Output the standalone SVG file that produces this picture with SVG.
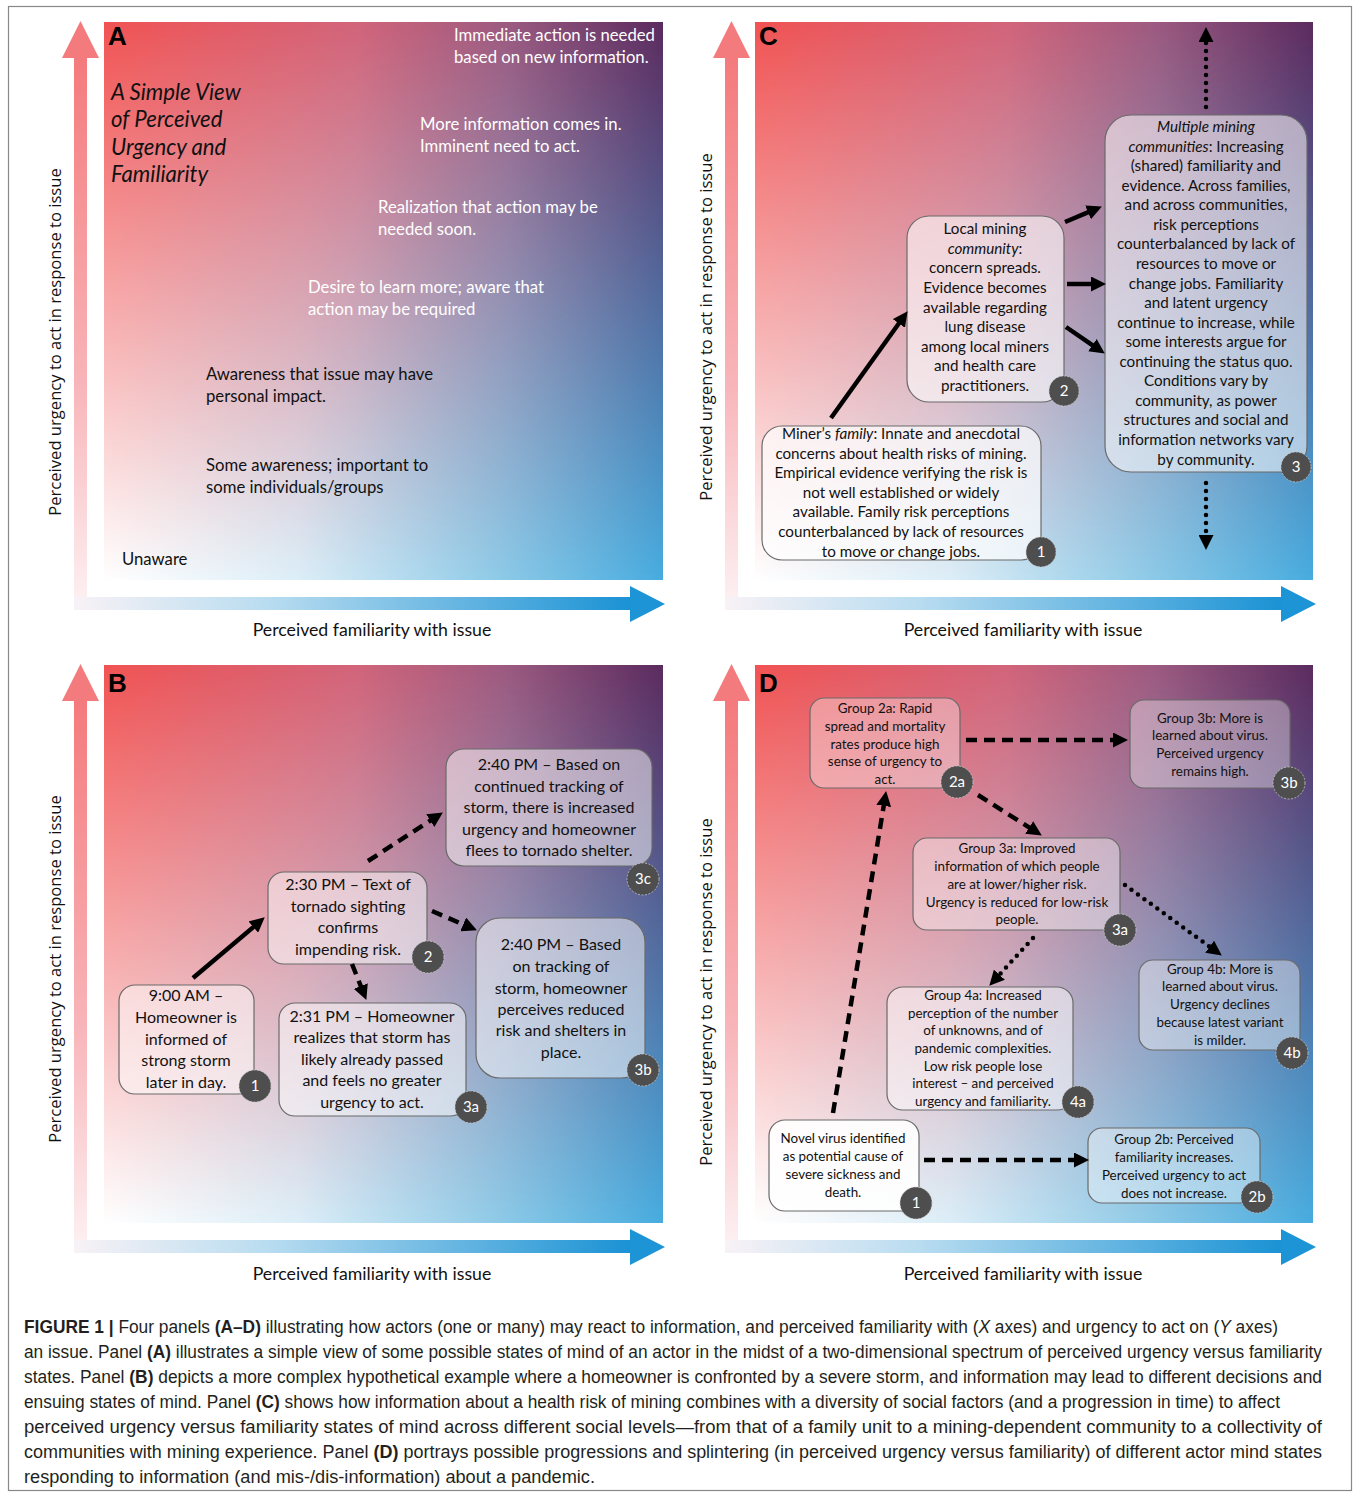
<svg xmlns="http://www.w3.org/2000/svg" width="1356" height="1494" viewBox="0 0 1356 1494">
<style>
.t{font-family:Lato,"Open Sans","DejaVu Sans",sans-serif;fill:#111}
.w{fill:#fff}
.box{fill:#fff;fill-opacity:.5;stroke:#6a6a6a;stroke-width:1.2}
.bc{fill:#4e4e4e;stroke:#c8c8c8;stroke-width:.8;stroke-dasharray:2 1.5}
.bt{font-family:Lato,"Open Sans",sans-serif;fill:#fff;font-size:15px;text-anchor:middle}
.ax{font-family:Lato,"Open Sans",sans-serif;font-size:17.7px;fill:#111;text-anchor:middle}
.ay{font-family:"Open Sans","DejaVu Sans",sans-serif;font-size:16.6px;fill:#111;text-anchor:middle}
.pl{font-family:"Liberation Sans",Arial,sans-serif;font-weight:bold;font-size:26px;fill:#000}
.cap{font-family:"Liberation Sans",Arial,sans-serif;font-size:17.5px;fill:#231f20}
.sol{stroke:#000;stroke-width:4.5;fill:none;marker-end:url(#ah)}
.dsh{stroke:#000;stroke-width:4.5;fill:none;stroke-dasharray:11 7;marker-end:url(#ah)}
.dot{stroke:#000;stroke-width:4.5;fill:none;stroke-dasharray:0 8;stroke-linecap:round;marker-end:url(#ah)}
.c{text-anchor:middle}
</style>
<defs>
<linearGradient id="gTop" x1="0" y1="0" x2="1" y2="0">
<stop offset="0" stop-color="#f15353"/>
<stop offset="0.45" stop-color="#d2647a"/>
<stop offset="0.72" stop-color="#9c5a80"/>
<stop offset="1" stop-color="#5b2b5f"/>
</linearGradient>
<linearGradient id="gBot" x1="0" y1="0" x2="1" y2="0">
<stop offset="0" stop-color="#ffffff"/>
<stop offset="0.35" stop-color="#dbeef8"/>
<stop offset="0.7" stop-color="#8fcbe8"/>
<stop offset="1" stop-color="#47acdf"/>
</linearGradient>
<linearGradient id="gV" x1="0" y1="0" x2="0" y2="1">
<stop offset="0" stop-color="#000"/>
<stop offset="1" stop-color="#fff"/>
</linearGradient>
<mask id="mV" maskContentUnits="objectBoundingBox"><rect width="1" height="1" fill="url(#gV)"/></mask>
<linearGradient id="gAY" x1="0" y1="0" x2="0" y2="1">
<stop offset="0" stop-color="#f47a7c"/>
<stop offset="0.6" stop-color="#f8b6ba"/>
<stop offset="1" stop-color="#fdf2f4"/>
</linearGradient>
<linearGradient id="gAX" x1="0" y1="0" x2="1" y2="0">
<stop offset="0" stop-color="#f8f2f6"/>
<stop offset="0.35" stop-color="#b8dcf0"/>
<stop offset="1" stop-color="#1a92d4"/>
</linearGradient>
<marker id="ah" viewBox="0 0 10 10" refX="2" refY="5" markerWidth="15" markerHeight="15" markerUnits="userSpaceOnUse" orient="auto">
<path d="M0,0 L10,5 L0,10 z" fill="#000"/>
</marker>
<g id="axes">
<rect x="74" y="56" width="13" height="554" fill="url(#gAY)"/>
<polygon points="62,58 99,58 80.5,21" fill="#f47b7d"/>
<rect x="74" y="597" width="558" height="13" fill="url(#gAX)"/>
<polygon points="630,586 630,622 665,604" fill="#1c94d6"/>
</g>
</defs>

<rect x="8.5" y="6.5" width="1343" height="1484" fill="#fff" stroke="#888" stroke-width="1.2"/>

<!-- Panel A -->
<g id="panelA">
<rect x="104" y="22" width="559" height="558" fill="url(#gTop)"/>
<rect x="104" y="22" width="559" height="558" fill="url(#gBot)" mask="url(#mV)"/>
<use href="#axes"/>
<text class="pl" x="108" y="45">A</text>
<text class="ax" x="372" y="636">Perceived familiarity with issue</text>
<text class="ay" transform="translate(61,342) rotate(-90)">Perceived urgency to act in response to issue</text>
<g class="t" font-size="22.2" font-style="italic">
<text x="111" y="100">A Simple View</text>
<text x="111" y="127">of Perceived</text>
<text x="111" y="155">Urgency and</text>
<text x="111" y="182">Familiarity</text>
</g>
<g class="t" font-size="16.7">
<text class="w" x="454" y="41">Immediate action is needed</text>
<text class="w" x="454" y="63">based on new information.</text>
<text class="w" x="420" y="130">More information comes in.</text>
<text class="w" x="420" y="152">Imminent need to act.</text>
<text class="w" x="378" y="213">Realization that action may be</text>
<text class="w" x="378" y="235">needed soon.</text>
<text class="w" x="308" y="293">Desire to learn more; aware that</text>
<text class="w" x="308" y="315">action may be required</text>
<text x="206" y="380">Awareness that issue may have</text>
<text x="206" y="402">personal impact.</text>
<text x="206" y="471">Some awareness; important to</text>
<text x="206" y="493">some individuals/groups</text>
<text x="122" y="565">Unaware</text>
</g>
</g>

<!-- Panel C -->
<g id="panelC">
<rect x="755" y="22" width="558" height="558" fill="url(#gTop)"/>
<rect x="755" y="22" width="558" height="558" fill="url(#gBot)" mask="url(#mV)"/>
<use href="#axes" transform="translate(651,0)"/>
<text class="pl" x="759" y="45">C</text>
<text class="ax" x="1023" y="636">Perceived familiarity with issue</text>
<text class="ay" transform="translate(712,327) rotate(-90)">Perceived urgency to act in response to issue</text>
</g>
<g id="C-node1">
<rect class="box" x="762" y="426" width="279" height="134" rx="20" style="fill-opacity:.7"/>
<g class="t c" font-size="15.2">
<text x="901" y="439">Miner’s <tspan font-style="italic">family</tspan>: Innate and anecdotal</text>
<text x="901" y="459">concerns about health risks of mining.</text>
<text x="901" y="478">Empirical evidence verifying the risk is</text>
<text x="901" y="498">not well established or widely</text>
<text x="901" y="517">available. Family risk perceptions</text>
<text x="901" y="537">counterbalanced by lack of resources</text>
<text x="901" y="557">to move or change jobs.</text>
</g>
<circle class="bc" cx="1041" cy="552" r="15"/><text class="bt" x="1041" y="557">1</text>
</g>
<g id="C-node2">
<rect class="box" x="907" y="216" width="157" height="186" rx="22" style="fill-opacity:.6"/>
<g class="t c" font-size="15.2">
<text x="985" y="234">Local mining</text>
<text x="985" y="254"><tspan font-style="italic">community</tspan>:</text>
<text x="985" y="273">concern spreads.</text>
<text x="985" y="293">Evidence becomes</text>
<text x="985" y="313">available regarding</text>
<text x="985" y="332">lung disease</text>
<text x="985" y="352">among local miners</text>
<text x="985" y="371">and health care</text>
<text x="985" y="391">practitioners.</text>
</g>
<circle class="bc" cx="1064" cy="391" r="15"/><text class="bt" x="1064" y="396">2</text>
</g>
<g id="C-node3">
<rect class="box" x="1105" y="115" width="202" height="357" rx="26" style="fill-opacity:.55"/>
<g class="t c" font-size="15.2">
<text x="1206" y="132" font-style="italic">Multiple mining</text>
<text x="1206" y="152"><tspan font-style="italic">communities</tspan>: Increasing</text>
<text x="1206" y="171">(shared) familiarity and</text>
<text x="1206" y="191">evidence. Across families,</text>
<text x="1206" y="210">and across communities,</text>
<text x="1206" y="230">risk perceptions</text>
<text x="1206" y="249">counterbalanced by lack of</text>
<text x="1206" y="269">resources to move or</text>
<text x="1206" y="289">change jobs. Familiarity</text>
<text x="1206" y="308">and latent urgency</text>
<text x="1206" y="328">continue to increase, while</text>
<text x="1206" y="347">some interests argue for</text>
<text x="1206" y="367">continuing the status quo.</text>
<text x="1206" y="386">Conditions vary by</text>
<text x="1206" y="406">community, as power</text>
<text x="1206" y="425">structures and social and</text>
<text x="1206" y="445">information networks vary</text>
<text x="1206" y="465">by community.</text>
</g>
<circle class="bc" cx="1296" cy="467" r="15"/><text class="bt" x="1296" y="472">3</text>
</g>

<!-- Panel B -->
<g id="panelB">
<rect x="104" y="665" width="559" height="558" fill="url(#gTop)"/>
<rect x="104" y="665" width="559" height="558" fill="url(#gBot)" mask="url(#mV)"/>
<use href="#axes" transform="translate(0,643)"/>
<text class="pl" x="108" y="692">B</text>
<text class="ax" x="372" y="1280">Perceived familiarity with issue</text>
<text class="ay" transform="translate(61,969) rotate(-90)">Perceived urgency to act in response to issue</text>
</g>
<g id="B-node1">
<rect class="box" x="119" y="985" width="135" height="109" rx="16"/>
<g class="t c" font-size="16">
<text x="186" y="1001">9:00 AM –</text>
<text x="186" y="1023">Homeowner is</text>
<text x="186" y="1045">informed of</text>
<text x="186" y="1066">strong storm</text>
<text x="186" y="1088">later in day.</text>
</g>
<circle class="bc" cx="255" cy="1086" r="16"/><text class="bt" x="255" y="1091">1</text>
</g>
<g id="B-node2">
<rect class="box" x="268" y="872" width="159" height="92" rx="16"/>
<g class="t c" font-size="16">
<text x="348" y="890">2:30 PM – Text of</text>
<text x="348" y="912">tornado sighting</text>
<text x="348" y="933">confirms</text>
<text x="348" y="955">impending risk.</text>
</g>
<circle class="bc" cx="428" cy="957" r="16"/><text class="bt" x="428" y="962">2</text>
</g>
<g id="B-node3a">
<rect class="box" x="279" y="1003" width="187" height="113" rx="16"/>
<g class="t c" font-size="16">
<text x="372" y="1022">2:31 PM – Homeowner</text>
<text x="372" y="1043">realizes that storm has</text>
<text x="372" y="1065">likely already passed</text>
<text x="372" y="1086">and feels no greater</text>
<text x="372" y="1108">urgency to act.</text>
</g>
<circle class="bc" cx="471" cy="1107" r="16"/><text class="bt" x="471" y="1112">3a</text>
</g>
<g id="B-node3b">
<rect class="box" x="476" y="918" width="169" height="160" rx="24"/>
<g class="t c" font-size="16">
<text x="561" y="950">2:40 PM – Based</text>
<text x="561" y="972">on tracking of</text>
<text x="561" y="994">storm, homeowner</text>
<text x="561" y="1015">perceives reduced</text>
<text x="561" y="1036">risk and shelters in</text>
<text x="561" y="1058">place.</text>
</g>
<circle class="bc" cx="643" cy="1070" r="16"/><text class="bt" x="643" y="1075">3b</text>
</g>
<g id="B-node3c">
<rect class="box" x="446" y="749" width="206" height="117" rx="18"/>
<g class="t c" font-size="16">
<text x="549" y="770">2:40 PM – Based on</text>
<text x="549" y="792">continued tracking of</text>
<text x="549" y="813">storm, there is increased</text>
<text x="549" y="835">urgency and homeowner</text>
<text x="549" y="856">flees to tornado shelter.</text>
</g>
<circle class="bc" cx="643" cy="879" r="16"/><text class="bt" x="643" y="884">3c</text>
</g>

<!-- Panel D -->
<g id="panelD">
<rect x="755" y="665" width="558" height="558" fill="url(#gTop)"/>
<rect x="755" y="665" width="558" height="558" fill="url(#gBot)" mask="url(#mV)"/>
<use href="#axes" transform="translate(651,643)"/>
<text class="pl" x="759" y="692">D</text>
<text class="ax" x="1023" y="1280">Perceived familiarity with issue</text>
<text class="ay" transform="translate(712,992) rotate(-90)">Perceived urgency to act in response to issue</text>
</g>
<g id="D-node2a">
<rect class="box" x="810" y="698" width="150" height="90" rx="14" style="fill-opacity:.35"/>
<g class="t c" font-size="13.4">
<text x="885" y="713">Group 2a: Rapid</text>
<text x="885" y="731">spread and mortality</text>
<text x="885" y="749">rates produce high</text>
<text x="885" y="766">sense of urgency to</text>
<text x="885" y="784">act.</text>
</g>
<circle class="bc" cx="957" cy="782" r="16"/><text class="bt" x="957" y="787">2a</text>
</g>
<g id="D-node3b">
<rect class="box" x="1130" y="700" width="160" height="88" rx="14" style="fill-opacity:.35"/>
<g class="t c" font-size="13.4">
<text x="1210" y="723">Group 3b: More is</text>
<text x="1210" y="740">learned about virus.</text>
<text x="1210" y="758">Perceived urgency</text>
<text x="1210" y="776">remains high.</text>
</g>
<circle class="bc" cx="1289" cy="783" r="16"/><text class="bt" x="1289" y="788">3b</text>
</g>
<g id="D-node3a">
<rect class="box" x="913" y="838" width="207" height="92" rx="14" style="fill-opacity:.4"/>
<g class="t c" font-size="13.4">
<text x="1017" y="853">Group 3a: Improved</text>
<text x="1017" y="871">information of which people</text>
<text x="1017" y="889">are at lower/higher risk.</text>
<text x="1017" y="907">Urgency is reduced for low-risk</text>
<text x="1017" y="924">people.</text>
</g>
<circle class="bc" cx="1120" cy="930" r="16"/><text class="bt" x="1120" y="935">3a</text>
</g>
<g id="D-node4b">
<rect class="box" x="1139" y="960" width="161" height="90" rx="14" style="fill-opacity:.4"/>
<g class="t c" font-size="13.4">
<text x="1220" y="974">Group 4b: More is</text>
<text x="1220" y="991">learned about virus.</text>
<text x="1220" y="1009">Urgency declines</text>
<text x="1220" y="1027">because latest variant</text>
<text x="1220" y="1045">is milder.</text>
</g>
<circle class="bc" cx="1292" cy="1053" r="16"/><text class="bt" x="1292" y="1058">4b</text>
</g>
<g id="D-node4a">
<rect class="box" x="887" y="987" width="186" height="123" rx="16" style="fill-opacity:.5"/>
<g class="t c" font-size="13.4">
<text x="983" y="1000">Group 4a: Increased</text>
<text x="983" y="1018">perception of the number</text>
<text x="983" y="1035">of unknowns, and of</text>
<text x="983" y="1053">pandemic complexities.</text>
<text x="983" y="1071">Low risk people lose</text>
<text x="983" y="1088">interest – and perceived</text>
<text x="983" y="1106">urgency and familiarity.</text>
</g>
<circle class="bc" cx="1078" cy="1102" r="16"/><text class="bt" x="1078" y="1107">4a</text>
</g>
<g id="D-node1">
<rect class="box" x="769" y="1120" width="150" height="91" rx="16" style="fill-opacity:.9"/>
<g class="t c" font-size="13.4">
<text x="843" y="1143">Novel virus identified</text>
<text x="843" y="1161">as potential cause of</text>
<text x="843" y="1179">severe sickness and</text>
<text x="843" y="1197">death.</text>
</g>
<circle class="bc" cx="916" cy="1203" r="16"/><text class="bt" x="916" y="1208">1</text>
</g>
<g id="D-node2b">
<rect class="box" x="1088" y="1128" width="172" height="75" rx="14" style="fill-opacity:.4"/>
<g class="t c" font-size="13.4">
<text x="1174" y="1144">Group 2b: Perceived</text>
<text x="1174" y="1162">familiarity increases.</text>
<text x="1174" y="1180">Perceived urgency to act</text>
<text x="1174" y="1198">does not increase.</text>
</g>
<circle class="bc" cx="1257" cy="1197" r="16"/><text class="bt" x="1257" y="1202">2b</text>
</g>

<!-- Connectors -->
<g id="connectors">
<line class="sol" x1="831" y1="418" x2="900.6" y2="321"/>
<line class="sol" x1="1065" y1="222" x2="1090.8" y2="211.2"/>
<line class="sol" x1="1067" y1="284" x2="1094" y2="284"/>
<line class="sol" x1="1066" y1="327" x2="1094.9" y2="346.8"/>
<line class="dot" x1="1206" y1="107" x2="1206" y2="39"/>
<line class="dot" x1="1206" y1="483" x2="1206" y2="538"/>
<line class="sol" x1="193" y1="978" x2="255.6" y2="925.1"/>
<line class="dsh" x1="368" y1="861" x2="432.8" y2="819"/>
<line class="dsh" x1="432" y1="911" x2="465.9" y2="925.6"/>
<line class="dsh" x1="352" y1="964" x2="361.9" y2="988.8"/>
<line class="dsh" x1="833" y1="1113" x2="884.2" y2="802.9"/>
<line class="dsh" x1="966" y1="740" x2="1116" y2="740"/>
<line class="dsh" x1="978" y1="795" x2="1031.7" y2="829.1"/>
<line class="dot" x1="1125" y1="885" x2="1212.1" y2="948.5"/>
<line class="dot" x1="1033" y1="938" x2="997.4" y2="976.9"/>
<line class="dsh" x1="924" y1="1160" x2="1077" y2="1160"/>
</g>

<!-- Caption -->
<g id="caption" class="cap">
<text x="24" y="1333" textLength="1254" lengthAdjust="spacingAndGlyphs"><tspan font-weight="bold">FIGURE 1 |</tspan> Four panels <tspan font-weight="bold">(A–D)</tspan> illustrating how actors (one or many) may react to information, and perceived familiarity with (<tspan font-style="italic">X</tspan> axes) and urgency to act on (<tspan font-style="italic">Y</tspan> axes)</text>
<text x="24" y="1358" textLength="1298" lengthAdjust="spacingAndGlyphs">an issue. Panel <tspan font-weight="bold">(A)</tspan> illustrates a simple view of some possible states of mind of an actor in the midst of a two-dimensional spectrum of perceived urgency versus familiarity</text>
<text x="24" y="1383" textLength="1298" lengthAdjust="spacingAndGlyphs">states. Panel <tspan font-weight="bold">(B)</tspan> depicts a more complex hypothetical example where a homeowner is confronted by a severe storm, and information may lead to different decisions and</text>
<text x="24" y="1408" textLength="1256" lengthAdjust="spacingAndGlyphs">ensuing states of mind. Panel <tspan font-weight="bold">(C)</tspan> shows how information about a health risk of mining combines with a diversity of social factors (and a progression in time) to affect</text>
<text x="24" y="1433" textLength="1298" lengthAdjust="spacingAndGlyphs">perceived urgency versus familiarity states of mind across different social levels—from that of a family unit to a mining-dependent community to a collectivity of</text>
<text x="24" y="1458" textLength="1298" lengthAdjust="spacingAndGlyphs">communities with mining experience. Panel <tspan font-weight="bold">(D)</tspan> portrays possible progressions and splintering (in perceived urgency versus familiarity) of different actor mind states</text>
<text x="24" y="1483" textLength="571" lengthAdjust="spacingAndGlyphs">responding to information (and mis-/dis-information) about a pandemic.</text>
</g>
</svg>
